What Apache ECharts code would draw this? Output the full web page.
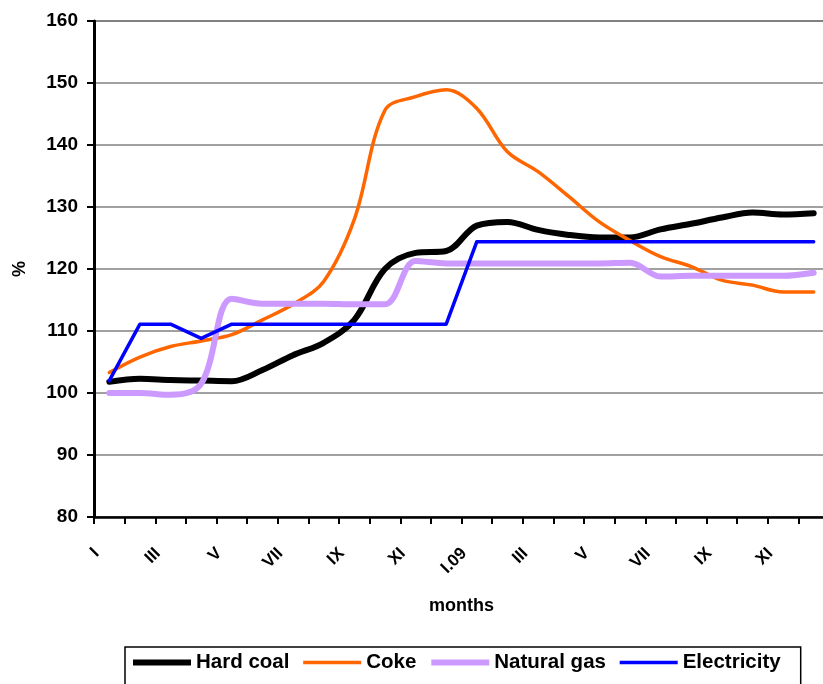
<!DOCTYPE html>
<html>
<head>
<meta charset="utf-8">
<title>Price indices of energy carriers</title>
<script src="https://cdn.jsdelivr.net/npm/echarts@6/dist/echarts.min.js"></script>
<style>
  html, body { margin: 0; padding: 0; background: #ffffff; }
  #chart { width: 823px; height: 684px; }
</style>
</head>
<body>
<div id="chart"></div>
<script>
// Months of 2008 and 2009 (roman numerals, January 2009 marked as I.09)
const months = ['I', 'II', 'III', 'IV', 'V', 'VI', 'VII', 'VIII', 'IX', 'X', 'XI', 'XII',
                'I.09', 'II', 'III', 'IV', 'V', 'VI', 'VII', 'VIII', 'IX', 'X', 'XI', 'XII'];

// Index values, %
const hardCoal = [101.8, 102.3, 102.1, 102.0, 101.9, 103.7, 106.1, 108.1, 111.8, 120.0, 122.6, 122.9,
                  127.0, 127.6, 126.3, 125.5, 125.1, 125.1, 126.4, 127.3, 128.3, 129.1, 128.8, 129.0];
const coke = [103.3, 105.8, 107.5, 108.4, 109.4, 111.8, 114.3, 118.0, 128.0, 145.6, 147.8, 148.9,
              145.9, 138.9, 135.7, 131.7, 127.6, 124.6, 122.0, 120.4, 118.2, 117.4, 116.3, 116.3];
const naturalGas = [100.0, 100.0, 99.7, 101.5, 115.2, 114.4, 114.4, 114.4, 114.3, 114.3, 121.3, 120.9,
                    120.9, 120.9, 120.9, 120.9, 120.9, 121.0, 118.8, 118.9, 118.9, 118.9, 118.9, 119.4];
const electricity = [102.0, 111.1, 111.1, 108.8, 111.1, 111.1, 111.1, 111.1, 111.1, 111.1, 111.1, 111.1,
                     124.4, 124.4, 124.4, 124.4, 124.4, 124.4, 124.4, 124.4, 124.4, 124.4, 124.4, 124.4];

const yMin = 80, yMax = 160, yStep = 10;

const font = 'Arial, "Liberation Sans", sans-serif';

// name, data, colour, line width, smoothing
const seriesDefs = [
  ['Hard coal', hardCoal, '#000000', 6, 0.35],
  ['Coke', coke, '#FF6600', 3.5, 0.35],
  ['Natural gas', naturalGas, '#CC99FF', 6, 0.35],
  ['Electricity', electricity, '#0000FF', 3.5, false]
];

const chart = echarts.init(document.getElementById('chart'), null, { renderer: 'canvas' });

chart.setOption({
  animation: false,
  backgroundColor: '#ffffff',
  grid: {
    left: 94,
    right: -6,
    top: 21,
    bottom: 167,
    outerBoundsMode: 'none',
    containLabel: false,
    show: true,
    borderColor: '#808080',
    borderWidth: 2,
    backgroundColor: 'transparent'
  },
  xAxis: {
    type: 'category',
    data: months,
    boundaryGap: true,
    name: 'months',
    nameLocation: 'middle',
    nameGap: 80,
    nameTextStyle: { fontFamily: font, fontWeight: 'bold', fontSize: 18, color: '#000' },
    axisLine: { show: true, lineStyle: { color: '#000', width: 2.5 } },
    axisTick: { show: true, interval: 0, length: 7, lineStyle: { color: '#000', width: 2 } },
    axisLabel: {
      interval: 1,
      rotate: 45,
      margin: 21,
      padding: [0, 18, 0, 0],
      fontFamily: font,
      fontWeight: 'bold',
      fontSize: 17,
      color: '#000'
    },
    splitLine: { show: false }
  },
  yAxis: {
    type: 'value',
    min: yMin,
    max: yMax,
    interval: yStep,
    name: '%',
    nameLocation: 'middle',
    nameRotate: 90,
    nameGap: 65,
    nameTextStyle: { fontFamily: font, fontWeight: 'bold', fontSize: 18, color: '#000' },
    axisLine: { show: true, lineStyle: { color: '#000', width: 3 } },
    axisTick: { show: true, length: 7, lineStyle: { color: '#000', width: 2 } },
    axisLabel: {
      margin: 16,
      fontFamily: font,
      fontWeight: 'bold',
      fontSize: 19,
      color: '#000'
    },
    splitLine: { show: true, lineStyle: { color: '#808080', width: 1.5 } }
  },
  legend: {
    left: 125,
    top: 647,
    orient: 'horizontal',
    itemWidth: 58,
    itemHeight: 20,
    itemGap: 12,
    padding: [5, 20, 12, 5],
    borderColor: '#000',
    borderWidth: 1.5,
    backgroundColor: '#ffffff',
    selectedMode: false,
    itemStyle: { opacity: 0 },
    textStyle: { fontFamily: font, fontWeight: 'bold', fontSize: 20.5, color: '#000' },
    data: seriesDefs.map(d => ({
      name: d[0],
      itemStyle: { opacity: 0 },
      lineStyle: { color: d[2], width: d[3], cap: 'butt' }
    }))
  },
  series: seriesDefs.map(d => ({
    name: d[0],
    type: 'line',
    data: d[1],
    symbol: 'none',
    smooth: d[4],
    lineStyle: { color: d[2], width: d[3], cap: 'round', join: 'round' },
    itemStyle: { color: d[2] },
    emphasis: { disabled: true }
  }))
});
</script>
</body>
</html>
